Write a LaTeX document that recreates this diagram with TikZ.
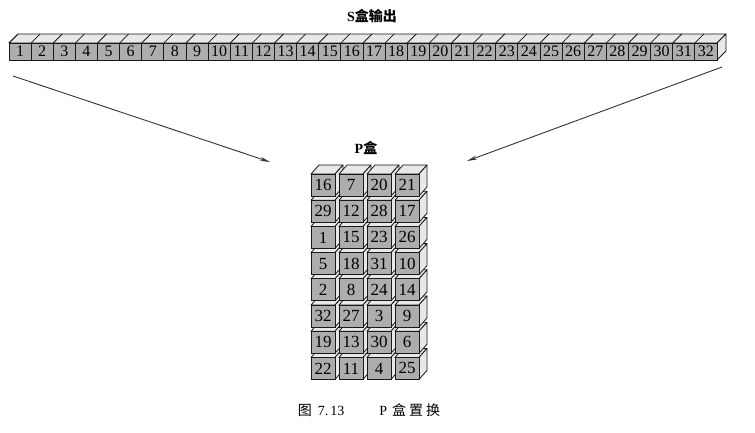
\documentclass[tikz,border=0pt]{standalone}
\usepackage{fontspec}
\setmainfont{Liberation Serif}
\newfontfamily\cjk{Noto Sans CJK SC}
\usetikzlibrary{arrows.meta}

\tikzset{
  facefront/.style={draw=black!90,fill=black!32,line width=.8pt},
  faceside/.style={draw=black!90,fill=black!9,line width=.8pt,line join=round},
  bitnum/.style={inner sep=0pt,font=\fontsize{16}{16}\selectfont},
  boxnum/.style={inner sep=0pt,font=\fontsize{17}{17}\selectfont},
  title/.style={inner sep=0pt,font=\fontsize{14}{14}\selectfont},
  link/.style={draw=black!80,line width=.9pt,-{Stealth[length=10pt,width=4pt]}}
}

\begin{document}
\begin{tikzpicture}[x=1pt,y=-1pt]
                \useasboundingbox[fill=white] (0,0) rectangle (755,432);
                \node[title] (sout) at (372,16) {\textbf{S}{\cjk\bfseries 盒输出}};
                \draw[faceside] (9,43) -- (18,34) -- (726,34) -- (717,43) -- cycle;
                \draw[faceside] (717,43) -- (726,34) -- (726,51) -- (717,60) -- cycle;
                \foreach \i in {1,...,32}{
                    \pgfmathsetmacro{\xl}{9+22.125*(\i-1)}
                    \draw[facefront] (\xl,43) rectangle ++(22.125,17);
                    \draw[line width=.8pt,black!90] (\xl,43) -- ++(9,-9);
                    \node[bitnum] (s\i) at (\xl+11.06,51.5) {\i};
                }
                \node[title] (pbox) at (366,148) {\textbf{P}{\cjk\bfseries 盒}};
                \foreach \row [count=\k from 0] in {{22,11,4,25},{19,13,30,6},{32,27,3,9},{2,8,24,14},{5,18,31,10},{1,15,23,26},{29,12,28,17},{16,7,20,21}}{
                    \pgfmathsetmacro{\yt}{174+26.2*(7-\k)}
                    \foreach \v [count=\j from 0] in \row {
                        \pgfmathsetmacro{\xl}{311+28*\j}
                        \draw[faceside] (\xl,\yt) -- ++(8,-9) -- ++(24,0) -- ++(-8,9) -- cycle;
                        \draw[faceside] (\xl+24,\yt) -- ++(8,-9) -- ++(0,22) -- ++(-8,9) -- cycle;
                        \draw[facefront] (\xl,\yt) rectangle ++(24,22);
                        \node[boxnum] (p\k\j) at (\xl+12,\yt+11) {\v};
                    }
                }
                \coordinate (lfrom) at (13,76);
                \coordinate (lto) at (270,162);
                \coordinate (rfrom) at (722,67);
                \coordinate (rto) at (467,161);
                \draw[link] (lfrom) -- (lto);
                \draw[link] (rfrom) -- (rto);
                \node[title] (cap) at (369,410) {{\cjk 图}\hspace{6pt}7.\hspace{2pt}13\hspace{35pt}P\hspace{5pt}{\cjk 盒\hspace{3pt}置\hspace{3pt}换}};
\end{tikzpicture}
\end{document}
